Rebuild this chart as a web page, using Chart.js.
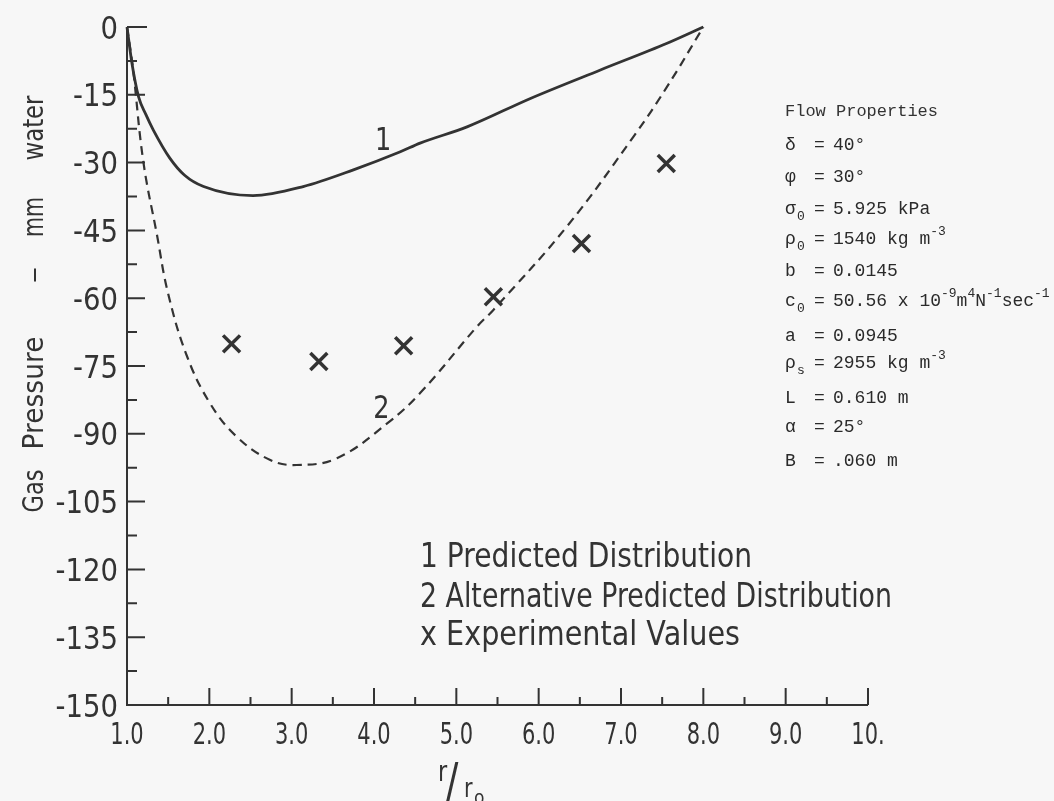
<!DOCTYPE html>
<html>
<head>
<meta charset="utf-8">
<script src="https://cdn.jsdelivr.net/npm/chart.js@4/dist/chart.umd.min.js"></script>
<style>
body { margin:0; background:#f7f7f7; }
canvas { display:block; }
</style>
</head>
<body>
<canvas id="gasChart" width="1054" height="801"></canvas>
<script>
// curve 1 - predicted distribution
var rPred = [1.0, 1.06, 1.14, 1.23, 1.32, 1.52, 1.7, 1.93, 2.53, 3.14, 3.75, 4.32, 4.56, 5.13, 5.9, 6.75, 7.56, 8.0]
var pPred = [0, -8.0, -15.4, -19.4, -22.8, -29.0, -32.8, -35.3, -37.3, -35.3, -31.6, -27.6, -25.7, -22.1, -15.8, -9.5, -3.6, 0]
// curve 2 - alternative predicted distribution
var rAlt = [1.0, 1.07, 1.2, 1.36, 1.5, 1.73, 2.01, 2.33, 2.74, 3.06, 3.55, 4.16, 4.56, 5.25, 5.45, 6.34, 7.15, 7.56, 8.0]
var pAlt = [0, -8.8, -30, -45.6, -59, -72.9, -83.3, -90.6, -95.8, -96.9, -95.4, -87.7, -81, -66.3, -62.6, -44.2, -24.3, -13.2, 0]
// experimental values
var rExp = [2.27, 3.33, 4.36, 5.45, 6.52, 7.55]
var pExp = [-70.1, -74.0, -70.5, -59.7, -47.9, -30.2]

var xTickVals = [1, 2, 3, 4, 5, 6, 7, 8, 9, 10]
var xTickLabels = ['1.0', '2.0', '3.0', '4.0', '5.0', '6.0', '7.0', '8.0', '9.0', '10.']
var xMinorVals = [1.5, 2.5, 3.5, 4.5, 5.5, 6.5, 7.5, 8.5, 9.5]
var yTickVals = [0, -15, -30, -45, -60, -75, -90, -105, -120, -135, -150]
var yTickLabels = ['0', '-15', '-30', '-45', '-60', '-75', '-90', '-105', '-120', '-135', '-150']
var yMinorVals = [-7.5, -22.5, -37.5, -52.5, -67.5, -82.5, -97.5, -112.5, -127.5, -142.5]

var legendLines = ['1 Predicted Distribution', '2 Alternative Predicted Distribution', 'x Experimental Values']
var flowTitle = 'Flow Properties'
var flowProps = [
  ['δ', '', [['40°']]],
  ['φ', '', [['30°']]],
  ['σ', '0', [['5.925 kPa']]],
  ['ρ', '0', [['1540 kg m'], ['-3', 1]]],
  ['b', '', [['0.0145']]],
  ['c', '0', [['50.56 x 10'], ['-9', 1], ['m'], ['4', 1], ['N'], ['-1', 1], ['sec'], ['-1', 1]]],
  ['a', '', [['0.0945']]],
  ['ρ', 's', [['2955 kg m'], ['-3', 1]]],
  ['L', '', [['0.610 m']]],
  ['α', '', [['25°']]],
  ['B', '', [['.060 m']]]
]

var INK = '#333333'
var SANS = '"DejaVu Sans", sans-serif'
var MONO = '"Liberation Mono", "DejaVu Sans Mono", monospace'

function pts(xs, ys) {
  return xs.map(function (x, i) { return {x: x, y: ys[i]} })
}

// draw horizontally condensed text; width overrides sx
function drawText(ctx, str, x, y, size, o) {
  o = o || {}
  ctx.save()
  ctx.font = (o.weight || '') + ' ' + size + 'px ' + (o.family || SANS)
  ctx.fillStyle = INK
  ctx.textBaseline = o.baseline || 'alphabetic'
  ctx.textAlign = o.align || 'left'
  var sx = o.sx || 1
  if (o.width) sx = o.width / ctx.measureText(str).width
  ctx.translate(x, y)
  if (o.rotate) ctx.rotate(o.rotate)
  ctx.scale(sx, 1)
  ctx.fillText(str, 0, 0)
  ctx.restore()
}

var paperPlugin = {
  id: 'paper',
  beforeDraw: function (chart) {
    var ctx = chart.ctx
    ctx.save()
    ctx.fillStyle = '#f7f7f7'
    ctx.fillRect(0, 0, chart.width, chart.height)
    ctx.restore()
  },
  afterDraw: function (chart) {
    var ctx = chart.ctx
    var xs = chart.scales.x, ys = chart.scales.y
    var x0 = xs.getPixelForValue(1), x1 = xs.getPixelForValue(10)
    var yTop = ys.getPixelForValue(0), yBot = ys.getPixelForValue(-150)

    ctx.save()
    ctx.strokeStyle = INK
    ctx.lineWidth = 2
    ctx.lineCap = 'butt'
    ctx.beginPath()
    ctx.moveTo(x0, yTop); ctx.lineTo(x0, yBot); ctx.lineTo(x1, yBot)
    // y ticks point inwards
    yTickVals.forEach(function (v) {
      var py = ys.getPixelForValue(v)
      ctx.moveTo(x0, py); ctx.lineTo(x0 + (v === 0 ? 20 : 18), py)
    })
    yMinorVals.forEach(function (v) {
      var py = ys.getPixelForValue(v)
      ctx.moveTo(x0, py); ctx.lineTo(x0 + 10, py)
    })
    xTickVals.forEach(function (v) {
      if (v === 1) return
      var px = xs.getPixelForValue(v)
      ctx.moveTo(px, yBot); ctx.lineTo(px, yBot - 17)
    })
    xMinorVals.forEach(function (v) {
      var px = xs.getPixelForValue(v)
      ctx.moveTo(px, yBot); ctx.lineTo(px, yBot - 8)
    })
    ctx.stroke()
    ctx.restore()

    // tick labels
    yTickVals.forEach(function (v, i) {
      drawText(ctx, yTickLabels[i], x0 - 9, ys.getPixelForValue(v) + 11.5, 32, {align: 'right', sx: 0.86})
    })
    xTickVals.forEach(function (v, i) {
      drawText(ctx, xTickLabels[i], xs.getPixelForValue(v), yBot + 39, 30, {align: 'center', sx: 0.7})
    })

    // y axis title, word by word
    var yTitle = [['Gas', 491, 43], ['Pressure', 393, 113], ['–', 275, 16], ['mm', 217, 40], ['water', 128, 65]]
    yTitle.forEach(function (w) {
      drawText(ctx, w[0], 43, w[1], 29, {align: 'center', width: w[2], rotate: -Math.PI / 2})
    })

    // x axis title r/r0
    drawText(ctx, 'r', 438, 781, 28, {sx: 0.8})
    drawText(ctx, '/', 452, 798, 50, {align: 'center', sx: 0.75})
    drawText(ctx, 'r', 464, 797, 26, {sx: 0.8})
    drawText(ctx, 'o', 474, 804, 19, {sx: 0.9})

    // curve labels
    drawText(ctx, '1', xs.getPixelForValue(4.11), ys.getPixelForValue(-24.6) + 12, 32, {align: 'center', sx: 0.8})
    drawText(ctx, '2', xs.getPixelForValue(4.09), ys.getPixelForValue(-83.9) + 12, 32, {align: 'center', sx: 0.8})

    // key
    var keyW = [332, 472, 320]
    var keyY = [567, 607, 645]
    legendLines.forEach(function (s, i) {
      drawText(ctx, s, 420, keyY[i], 34, {width: keyW[i]})
    })

    // flow properties block
    drawText(ctx, flowTitle, 785, 116, 17, {family: MONO})
    var rowY = [143, 175, 207.5, 237.5, 269.5, 299.5, 334.5, 361.5, 396.5, 425.5, 459.5]
    ctx.save()
    ctx.fillStyle = '#2a2a2a'
    flowProps.forEach(function (row, i) {
      var base = rowY[i] + 6.5
      ctx.font = '18px ' + MONO
      ctx.fillText(row[0], 785, base)
      if (row[1]) {
        ctx.font = '13px ' + MONO
        ctx.fillText(row[1], 797, base + 6)
      }
      ctx.font = '18px ' + MONO
      ctx.fillText('=', 814, base)
      var cx = 833
      row[2].forEach(function (part) {
        if (part[1]) {
          ctx.font = '13px ' + MONO
          ctx.fillText(part[0], cx, base - 9)
        } else {
          ctx.font = '18px ' + MONO
          ctx.fillText(part[0], cx, base)
        }
        cx += ctx.measureText(part[0]).width
      })
    })
    ctx.restore()
  }
}

var context = document.getElementById('gasChart').getContext('2d')
var chart = new Chart(context, {
  type: 'scatter',
  data: {
    datasets: [
      {
        label: 'Predicted Distribution',
        data: pts(rPred, pPred),
        showLine: true,
        borderColor: INK,
        borderWidth: 2.8,
        pointRadius: 0,
        cubicInterpolationMode: 'monotone',
        clip: false
      },
      {
        label: 'Alternative Predicted Distribution',
        data: pts(rAlt, pAlt),
        showLine: true,
        borderColor: INK,
        borderWidth: 2.2,
        borderDash: [9, 6],
        pointRadius: 0,
        tension: 0.4,
        clip: false
      },
      {
        label: 'Experimental Values',
        data: pts(rExp, pExp),
        showLine: false,
        pointStyle: 'crossRot',
        pointRadius: 12,
        borderColor: INK,
        borderWidth: 3.5,
        clip: false
      }
    ]
  },
  options: {
    responsive: false,
    animation: false,
    layout: { padding: { left: 127, right: 186, top: 27, bottom: 96 } },
    scales: {
      x: { type: 'linear', min: 1, max: 10, display: false },
      y: { type: 'linear', min: -150, max: 0, display: false }
    },
    plugins: { legend: { display: false }, tooltip: { enabled: false } }
  },
  plugins: [paperPlugin]
})
</script>
</body>
</html>
